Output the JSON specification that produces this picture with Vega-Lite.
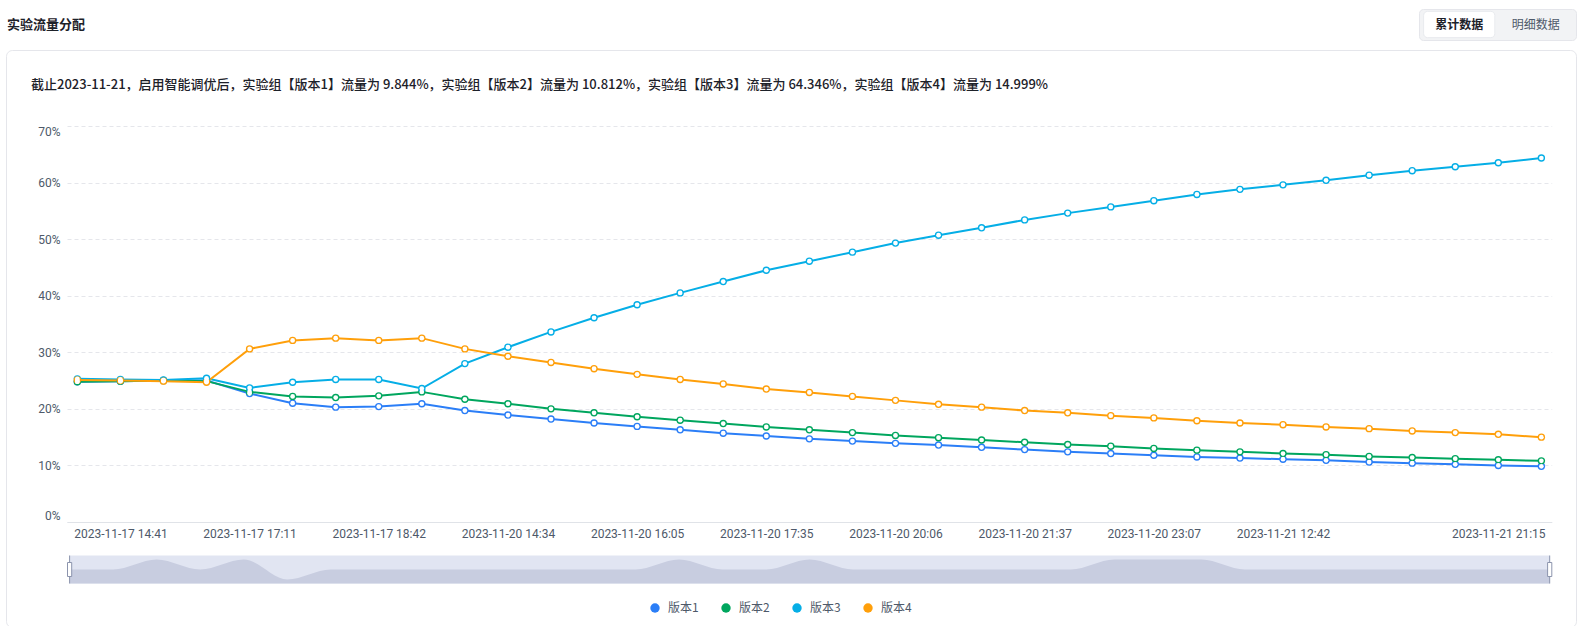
{
  "$schema": "https://vega.github.io/schema/vega-lite/v6.json",
  "padding": {"left": 5, "top": 8, "right": 5, "bottom": 0},
  "background": "white",
  "spacing": 8,
  "config": {"view": {"stroke": null}, "font": "Noto Sans CJK SC"},
  "resolve": {"scale": {"color": "independent", "stroke": "independent"}, "legend": {"color": "independent"}},
  "datasets": {
    "traffic": [
      {"时间": "2023-11-17 13:51", "版本": "版本1", "流量": 24.8},
      {"时间": "2023-11-17 14:41", "版本": "版本1", "流量": 24.9},
      {"时间": "2023-11-17 15:31", "版本": "版本1", "流量": 25.0},
      {"时间": "2023-11-17 16:21", "版本": "版本1", "流量": 25.0},
      {"时间": "2023-11-17 17:11", "版本": "版本1", "流量": 22.7},
      {"时间": "2023-11-17 17:41", "版本": "版本1", "流量": 21.0},
      {"时间": "2023-11-17 18:12", "版本": "版本1", "流量": 20.3},
      {"时间": "2023-11-17 18:42", "版本": "版本1", "流量": 20.4},
      {"时间": "2023-11-20 13:33", "版本": "版本1", "流量": 20.9},
      {"时间": "2023-11-20 14:04", "版本": "版本1", "流量": 19.7},
      {"时间": "2023-11-20 14:34", "版本": "版本1", "流量": 18.9},
      {"时间": "2023-11-20 15:04", "版本": "版本1", "流量": 18.2},
      {"时间": "2023-11-20 15:35", "版本": "版本1", "流量": 17.5},
      {"时间": "2023-11-20 16:05", "版本": "版本1", "流量": 16.9},
      {"时间": "2023-11-20 16:35", "版本": "版本1", "流量": 16.3},
      {"时间": "2023-11-20 17:05", "版本": "版本1", "流量": 15.7},
      {"时间": "2023-11-20 17:35", "版本": "版本1", "流量": 15.2},
      {"时间": "2023-11-20 18:25", "版本": "版本1", "流量": 14.7},
      {"时间": "2023-11-20 19:16", "版本": "版本1", "流量": 14.3},
      {"时间": "2023-11-20 20:06", "版本": "版本1", "流量": 13.9},
      {"时间": "2023-11-20 20:36", "版本": "版本1", "流量": 13.6},
      {"时间": "2023-11-20 21:07", "版本": "版本1", "流量": 13.2},
      {"时间": "2023-11-20 21:37", "版本": "版本1", "流量": 12.8},
      {"时间": "2023-11-20 22:07", "版本": "版本1", "流量": 12.4},
      {"时间": "2023-11-20 22:37", "版本": "版本1", "流量": 12.1},
      {"时间": "2023-11-20 23:07", "版本": "版本1", "流量": 11.8},
      {"时间": "2023-11-21 10:37", "版本": "版本1", "流量": 11.5},
      {"时间": "2023-11-21 11:40", "版本": "版本1", "流量": 11.3},
      {"时间": "2023-11-21 12:42", "版本": "版本1", "流量": 11.1},
      {"时间": "2023-11-21 14:25", "版本": "版本1", "流量": 10.9},
      {"时间": "2023-11-21 16:08", "版本": "版本1", "流量": 10.6},
      {"时间": "2023-11-21 17:50", "版本": "版本1", "流量": 10.4},
      {"时间": "2023-11-21 19:33", "版本": "版本1", "流量": 10.2},
      {"时间": "2023-11-21 21:15", "版本": "版本1", "流量": 10.0},
      {"时间": "2023-11-21 21:45", "版本": "版本1", "流量": 9.844},
      {"时间": "2023-11-17 13:51", "版本": "版本2", "流量": 24.8},
      {"时间": "2023-11-17 14:41", "版本": "版本2", "流量": 24.9},
      {"时间": "2023-11-17 15:31", "版本": "版本2", "流量": 25.0},
      {"时间": "2023-11-17 16:21", "版本": "版本2", "流量": 24.9},
      {"时间": "2023-11-17 17:11", "版本": "版本2", "流量": 23.0},
      {"时间": "2023-11-17 17:41", "版本": "版本2", "流量": 22.2},
      {"时间": "2023-11-17 18:12", "版本": "版本2", "流量": 22.0},
      {"时间": "2023-11-17 18:42", "版本": "版本2", "流量": 22.3},
      {"时间": "2023-11-20 13:33", "版本": "版本2", "流量": 23.0},
      {"时间": "2023-11-20 14:04", "版本": "版本2", "流量": 21.7},
      {"时间": "2023-11-20 14:34", "版本": "版本2", "流量": 20.9},
      {"时间": "2023-11-20 15:04", "版本": "版本2", "流量": 20.0},
      {"时间": "2023-11-20 15:35", "版本": "版本2", "流量": 19.3},
      {"时间": "2023-11-20 16:05", "版本": "版本2", "流量": 18.6},
      {"时间": "2023-11-20 16:35", "版本": "版本2", "流量": 18.0},
      {"时间": "2023-11-20 17:05", "版本": "版本2", "流量": 17.4},
      {"时间": "2023-11-20 17:35", "版本": "版本2", "流量": 16.8},
      {"时间": "2023-11-20 18:25", "版本": "版本2", "流量": 16.3},
      {"时间": "2023-11-20 19:16", "版本": "版本2", "流量": 15.8},
      {"时间": "2023-11-20 20:06", "版本": "版本2", "流量": 15.3},
      {"时间": "2023-11-20 20:36", "版本": "版本2", "流量": 14.9},
      {"时间": "2023-11-20 21:07", "版本": "版本2", "流量": 14.5},
      {"时间": "2023-11-20 21:37", "版本": "版本2", "流量": 14.1},
      {"时间": "2023-11-20 22:07", "版本": "版本2", "流量": 13.7},
      {"时间": "2023-11-20 22:37", "版本": "版本2", "流量": 13.4},
      {"时间": "2023-11-20 23:07", "版本": "版本2", "流量": 13.0},
      {"时间": "2023-11-21 10:37", "版本": "版本2", "流量": 12.7},
      {"时间": "2023-11-21 11:40", "版本": "版本2", "流量": 12.4},
      {"时间": "2023-11-21 12:42", "版本": "版本2", "流量": 12.1},
      {"时间": "2023-11-21 14:25", "版本": "版本2", "流量": 11.9},
      {"时间": "2023-11-21 16:08", "版本": "版本2", "流量": 11.6},
      {"时间": "2023-11-21 17:50", "版本": "版本2", "流量": 11.4},
      {"时间": "2023-11-21 19:33", "版本": "版本2", "流量": 11.2},
      {"时间": "2023-11-21 21:15", "版本": "版本2", "流量": 11.0},
      {"时间": "2023-11-21 21:45", "版本": "版本2", "流量": 10.812},
      {"时间": "2023-11-17 13:51", "版本": "版本3", "流量": 25.3},
      {"时间": "2023-11-17 14:41", "版本": "版本3", "流量": 25.2},
      {"时间": "2023-11-17 15:31", "版本": "版本3", "流量": 25.1},
      {"时间": "2023-11-17 16:21", "版本": "版本3", "流量": 25.4},
      {"时间": "2023-11-17 17:11", "版本": "版本3", "流量": 23.7},
      {"时间": "2023-11-17 17:41", "版本": "版本3", "流量": 24.7},
      {"时间": "2023-11-17 18:12", "版本": "版本3", "流量": 25.2},
      {"时间": "2023-11-17 18:42", "版本": "版本3", "流量": 25.2},
      {"时间": "2023-11-20 13:33", "版本": "版本3", "流量": 23.6},
      {"时间": "2023-11-20 14:04", "版本": "版本3", "流量": 28.0},
      {"时间": "2023-11-20 14:34", "版本": "版本3", "流量": 30.9},
      {"时间": "2023-11-20 15:04", "版本": "版本3", "流量": 33.6},
      {"时间": "2023-11-20 15:35", "版本": "版本3", "流量": 36.1},
      {"时间": "2023-11-20 16:05", "版本": "版本3", "流量": 38.4},
      {"时间": "2023-11-20 16:35", "版本": "版本3", "流量": 40.5},
      {"时间": "2023-11-20 17:05", "版本": "版本3", "流量": 42.5},
      {"时间": "2023-11-20 17:35", "版本": "版本3", "流量": 44.5},
      {"时间": "2023-11-20 18:25", "版本": "版本3", "流量": 46.1},
      {"时间": "2023-11-20 19:16", "版本": "版本3", "流量": 47.7},
      {"时间": "2023-11-20 20:06", "版本": "版本3", "流量": 49.3},
      {"时间": "2023-11-20 20:36", "版本": "版本3", "流量": 50.7},
      {"时间": "2023-11-20 21:07", "版本": "版本3", "流量": 52.0},
      {"时间": "2023-11-20 21:37", "版本": "版本3", "流量": 53.4},
      {"时间": "2023-11-20 22:07", "版本": "版本3", "流量": 54.6},
      {"时间": "2023-11-20 22:37", "版本": "版本3", "流量": 55.7},
      {"时间": "2023-11-20 23:07", "版本": "版本3", "流量": 56.8},
      {"时间": "2023-11-21 10:37", "版本": "版本3", "流量": 57.9},
      {"时间": "2023-11-21 11:40", "版本": "版本3", "流量": 58.8},
      {"时间": "2023-11-21 12:42", "版本": "版本3", "流量": 59.6},
      {"时间": "2023-11-21 14:25", "版本": "版本3", "流量": 60.4},
      {"时间": "2023-11-21 16:08", "版本": "版本3", "流量": 61.3},
      {"时间": "2023-11-21 17:50", "版本": "版本3", "流量": 62.1},
      {"时间": "2023-11-21 19:33", "版本": "版本3", "流量": 62.8},
      {"时间": "2023-11-21 21:15", "版本": "版本3", "流量": 63.5},
      {"时间": "2023-11-21 21:45", "版本": "版本3", "流量": 64.346},
      {"时间": "2023-11-17 13:51", "版本": "版本4", "流量": 25.1},
      {"时间": "2023-11-17 14:41", "版本": "版本4", "流量": 25.0},
      {"时间": "2023-11-17 15:31", "版本": "版本4", "流量": 24.9},
      {"时间": "2023-11-17 16:21", "版本": "版本4", "流量": 24.7},
      {"时间": "2023-11-17 17:11", "版本": "版本4", "流量": 30.6},
      {"时间": "2023-11-17 17:41", "版本": "版本4", "流量": 32.1},
      {"时间": "2023-11-17 18:12", "版本": "版本4", "流量": 32.5},
      {"时间": "2023-11-17 18:42", "版本": "版本4", "流量": 32.1},
      {"时间": "2023-11-20 13:33", "版本": "版本4", "流量": 32.5},
      {"时间": "2023-11-20 14:04", "版本": "版本4", "流量": 30.6},
      {"时间": "2023-11-20 14:34", "版本": "版本4", "流量": 29.3},
      {"时间": "2023-11-20 15:04", "版本": "版本4", "流量": 28.2},
      {"时间": "2023-11-20 15:35", "版本": "版本4", "流量": 27.1},
      {"时间": "2023-11-20 16:05", "版本": "版本4", "流量": 26.1},
      {"时间": "2023-11-20 16:35", "版本": "版本4", "流量": 25.2},
      {"时间": "2023-11-20 17:05", "版本": "版本4", "流量": 24.4},
      {"时间": "2023-11-20 17:35", "版本": "版本4", "流量": 23.5},
      {"时间": "2023-11-20 18:25", "版本": "版本4", "流量": 22.9},
      {"时间": "2023-11-20 19:16", "版本": "版本4", "流量": 22.2},
      {"时间": "2023-11-20 20:06", "版本": "版本4", "流量": 21.5},
      {"时间": "2023-11-20 20:36", "版本": "版本4", "流量": 20.8},
      {"时间": "2023-11-20 21:07", "版本": "版本4", "流量": 20.3},
      {"时间": "2023-11-20 21:37", "版本": "版本4", "流量": 19.7},
      {"时间": "2023-11-20 22:07", "版本": "版本4", "流量": 19.3},
      {"时间": "2023-11-20 22:37", "版本": "版本4", "流量": 18.8},
      {"时间": "2023-11-20 23:07", "版本": "版本4", "流量": 18.4},
      {"时间": "2023-11-21 10:37", "版本": "版本4", "流量": 17.9},
      {"时间": "2023-11-21 11:40", "版本": "版本4", "流量": 17.5},
      {"时间": "2023-11-21 12:42", "版本": "版本4", "流量": 17.2},
      {"时间": "2023-11-21 14:25", "版本": "版本4", "流量": 16.8},
      {"时间": "2023-11-21 16:08", "版本": "版本4", "流量": 16.5},
      {"时间": "2023-11-21 17:50", "版本": "版本4", "流量": 16.1},
      {"时间": "2023-11-21 19:33", "版本": "版本4", "流量": 15.8},
      {"时间": "2023-11-21 21:15", "版本": "版本4", "流量": 15.5},
      {"时间": "2023-11-21 21:45", "版本": "版本4", "流量": 14.999}
    ],
    "slider": [
      {"时间": "2023-11-17 13:51", "阴影": 1, "手柄": true},
      {"时间": "2023-11-17 14:41", "阴影": 1, "手柄": false},
      {"时间": "2023-11-17 15:31", "阴影": 2, "手柄": false},
      {"时间": "2023-11-17 16:21", "阴影": 1, "手柄": false},
      {"时间": "2023-11-17 17:11", "阴影": 2, "手柄": false},
      {"时间": "2023-11-17 17:41", "阴影": 0, "手柄": false},
      {"时间": "2023-11-17 18:12", "阴影": 1, "手柄": false},
      {"时间": "2023-11-17 18:42", "阴影": 1, "手柄": false},
      {"时间": "2023-11-20 13:33", "阴影": 1, "手柄": false},
      {"时间": "2023-11-20 14:04", "阴影": 1, "手柄": false},
      {"时间": "2023-11-20 14:34", "阴影": 1, "手柄": false},
      {"时间": "2023-11-20 15:04", "阴影": 1, "手柄": false},
      {"时间": "2023-11-20 15:35", "阴影": 1, "手柄": false},
      {"时间": "2023-11-20 16:05", "阴影": 1, "手柄": false},
      {"时间": "2023-11-20 16:35", "阴影": 2, "手柄": false},
      {"时间": "2023-11-20 17:05", "阴影": 1, "手柄": false},
      {"时间": "2023-11-20 17:35", "阴影": 1, "手柄": false},
      {"时间": "2023-11-20 18:25", "阴影": 2, "手柄": false},
      {"时间": "2023-11-20 19:16", "阴影": 1, "手柄": false},
      {"时间": "2023-11-20 20:06", "阴影": 1, "手柄": false},
      {"时间": "2023-11-20 20:36", "阴影": 1, "手柄": false},
      {"时间": "2023-11-20 21:07", "阴影": 1, "手柄": false},
      {"时间": "2023-11-20 21:37", "阴影": 1, "手柄": false},
      {"时间": "2023-11-20 22:07", "阴影": 1, "手柄": false},
      {"时间": "2023-11-20 22:37", "阴影": 2, "手柄": false},
      {"时间": "2023-11-20 23:07", "阴影": 2, "手柄": false},
      {"时间": "2023-11-21 10:37", "阴影": 2, "手柄": false},
      {"时间": "2023-11-21 11:40", "阴影": 1, "手柄": false},
      {"时间": "2023-11-21 12:42", "阴影": 1, "手柄": false},
      {"时间": "2023-11-21 14:25", "阴影": 1, "手柄": false},
      {"时间": "2023-11-21 16:08", "阴影": 1, "手柄": false},
      {"时间": "2023-11-21 17:50", "阴影": 1, "手柄": false},
      {"时间": "2023-11-21 19:33", "阴影": 1, "手柄": false},
      {"时间": "2023-11-21 21:15", "阴影": 1, "手柄": false},
      {"时间": "2023-11-21 21:45", "阴影": 1, "手柄": true}
    ]
  },
  "vconcat": [
    {
      "hconcat": [
        {
          "width": 2,
          "height": 31,
          "data": {"values": [{"标题": "实验流量分配"}]},
          "mark": {"type": "text", "align": "left", "baseline": "middle", "fontSize": 13, "fontWeight": 600, "color": "#1d2129", "font": "Noto Sans CJK SC"},
          "encoding": {"text": {"field": "标题", "type": "nominal"}}
        },
        {
          "width": 157,
          "height": 31,
          "view": {"fill": "#f2f3f5", "stroke": "#e5e6eb", "cornerRadius": 4},
          "data": {"values": [
            {"按钮": "累计数据", "选中": true, "行": "r"},
            {"按钮": "明细数据", "选中": false, "行": "r"}
          ]},
          "encoding": {
            "x": {"field": "按钮", "type": "nominal", "scale": {"domain": ["累计数据", "明细数据"], "paddingInner": 0.07, "paddingOuter": 0.06}, "axis": null},
            "y": {"field": "行", "type": "nominal", "scale": {"paddingInner": 0, "paddingOuter": 0.09}, "axis": null}
          },
          "layer": [
            {"transform": [{"filter": "datum['选中']"}], "mark": {"type": "rect", "fill": "white", "stroke": "#e8eaee", "strokeWidth": 1, "cornerRadius": 4}},
            {"transform": [{"filter": "datum['选中']"}], "mark": {"type": "text", "fontSize": 12, "fontWeight": 600, "color": "#1d2129", "font": "Noto Sans CJK SC"}, "encoding": {"text": {"field": "按钮", "type": "nominal"}}},
            {"transform": [{"filter": "!datum['选中']"}], "mark": {"type": "text", "fontSize": 12, "color": "#4e5969", "font": "Noto Sans CJK SC"}, "encoding": {"text": {"field": "按钮", "type": "nominal"}}}
          ]
        }
      ],
      "spacing": 1411,
      "bounds": "flush"
    },
    {
      "width": 1570,
      "height": 577,
      "view": {"stroke": "#e5e6eb", "cornerRadius": 6, "fill": null},
      "title": {
        "text": "截止2023-11-21，启用智能调优后，实验组【版本1】流量为 9.844%，实验组【版本2】流量为 10.812%，实验组【版本3】流量为 64.346%，实验组【版本4】流量为 14.999%",
        "anchor": "start",
        "frame": "group",
        "orient": "top",
        "offset": -48,
        "dx": 25,
        "baseline": "middle",
        "fontSize": 13,
        "fontWeight": 500,
        "color": "#1d2129",
        "font": "Noto Sans CJK SC"
      },
      "resolve": {"scale": {"x": "independent", "y": "independent"}},
      "layer": [
        {
          "data": {"name": "traffic"},
          "encoding": {
            "x": {
              "field": "时间",
              "type": "ordinal",
              "scale": {"type": "point", "range": [61, 1545.7], "padding": 0.24},
              "axis": {
                "values": ["2023-11-17 14:41", "2023-11-17 17:11", "2023-11-17 18:42", "2023-11-20 14:34", "2023-11-20 16:05", "2023-11-20 17:35", "2023-11-20 20:06", "2023-11-20 21:37", "2023-11-20 23:07", "2023-11-21 12:42", "2023-11-21 21:15"],
                "orient": "bottom",
                "offset": -105,
                "ticks": false,
                "labelPadding": 6,
                "labelAngle": 0,
                "labelOverlap": false,
                "labelFont": "Roboto",
                "labelFontSize": 12,
                "labelColor": "#4e5969",
                "domainColor": "#e0e3e8",
                "domainWidth": 1,
                "grid": false,
                "title": null
              }
            },
            "y": {
              "field": "流量",
              "type": "quantitative",
              "scale": {"domain": [0, 70], "range": [472, 76], "nice": false, "zero": true},
              "axis": {
                "values": [0, 10, 20, 30, 40, 50, 60, 70],
                "orient": "left",
                "offset": -61,
                "ticks": false,
                "domain": false,
                "labelPadding": 7,
                "labelFlush": true,
                "labelExpr": "datum.value + '%'",
                "labelFont": "Roboto",
                "labelFontSize": 12,
                "labelColor": "#4e5969",
                "grid": true,
                "gridColor": "#e5e6eb",
                "gridDash": [4, 3],
                "title": null
              }
            }
          },
          "layer": [
            {
              "mark": {"type": "line", "strokeWidth": 2},
              "encoding": {
                "stroke": {"field": "版本", "type": "nominal", "scale": {"range": ["#2b7ef7", "#00a65e", "#05aee6", "#ff9f0a"]}, "legend": null}
              }
            },
            {
              "mark": {"type": "point", "shape": "circle", "filled": true, "size": 55, "opacity": 1},
              "encoding": {
                "color": {
                  "field": "版本",
                  "type": "nominal",
                  "scale": {"domain": ["版本1", "版本2", "版本3", "版本4"], "range": ["#2b7ef7", "#00a65e", "#05aee6", "#ff9f0a"]},
                  "legend": {
                    "orient": "none",
                    "legendX": 643,
                    "legendY": 552,
                    "direction": "horizontal",
                    "title": null,
                    "symbolType": "circle",
                    "symbolSize": 88,
                    "symbolStrokeWidth": 0,
                    "labelFont": "Noto Sans CJK SC",
                    "labelFontSize": 12,
                    "labelColor": "#4e5969",
                    "labelOffset": 7,
                    "columnPadding": 21
                  }
                }
              }
            },
            {
              "mark": {"type": "point", "shape": "circle", "filled": true, "size": 22, "opacity": 1, "color": "white"}
            }
          ]
        },
        {
          "data": {"name": "slider"},
          "encoding": {
            "x": {"field": "时间", "type": "ordinal", "scale": {"type": "point", "range": [63.6, 1543.7], "padding": 0}, "axis": null}
          },
          "layer": [
            {
              "mark": {"type": "area", "color": "#e1e5f2", "opacity": 1},
              "encoding": {
                "y": {"datum": 2.4, "type": "quantitative", "scale": {"domain": [-0.4, 2.4], "range": [533.5, 505.5], "nice": false, "zero": false}, "axis": null},
                "y2": {"datum": -0.4}
              }
            },
            {
              "mark": {"type": "area", "color": "#c8cde0", "opacity": 1, "interpolate": "monotone"},
              "encoding": {
                "y": {"field": "阴影", "type": "quantitative", "axis": null},
                "y2": {"datum": -0.4}
              }
            },
            {
              "transform": [{"filter": "datum['手柄']"}],
              "mark": {"type": "rule", "color": "#8c94ad", "strokeWidth": 1},
              "encoding": {
                "y": {"datum": -0.4, "type": "quantitative"},
                "y2": {"datum": 2.4}
              }
            },
            {
              "transform": [{"filter": "datum['手柄']"}],
              "mark": {"type": "point", "shape": "M-0.3,-1L0.3,-1L0.3,1L-0.3,1Z", "size": 196, "filled": true, "fill": "white", "stroke": "#8c94ad", "strokeWidth": 1, "opacity": 1},
              "encoding": {
                "y": {"datum": 1, "type": "quantitative"}
              }
            }
          ]
        }
      ]
    }
  ]
}
